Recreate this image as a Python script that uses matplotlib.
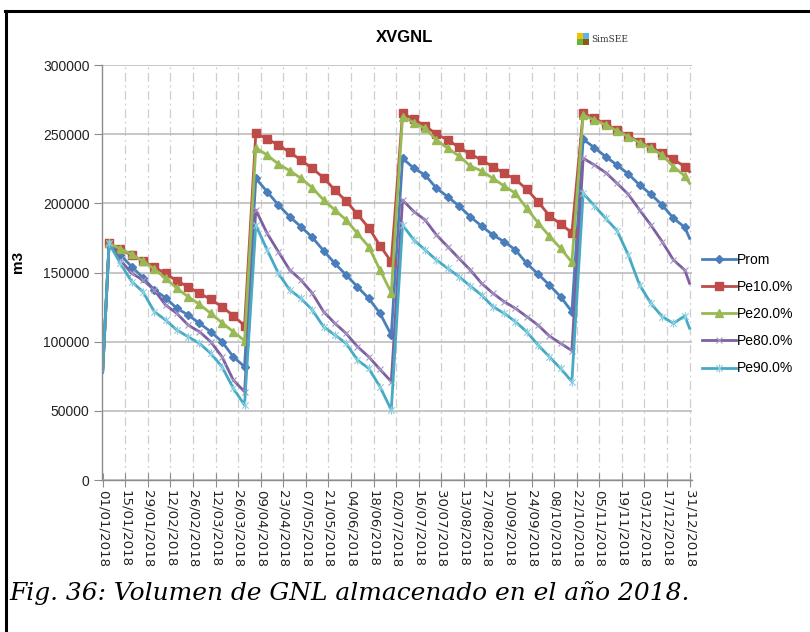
import numpy as np
import pandas as pd
import matplotlib
matplotlib.use("Agg")
import matplotlib.pyplot as plt
import matplotlib.dates as mdates
from matplotlib.lines import Line2D
from matplotlib.patches import Rectangle
from matplotlib.path import Path

# fechas: inicio del año, pasos semanales de la simulación y cierre al 31/12
fechas = ([pd.Timestamp("2018-01-01")]
          + list(pd.date_range("2018-01-05", periods=52, freq="7D"))
          + [pd.Timestamp("2018-12-31")])

prom = [78000,
        171000, 162700, 154200, 146300, 137400, 131800, 124100, 119300, 113300, 107200, 100000, 89100, 81900,
        218100, 208400, 198800, 190300, 183100, 175400, 165800, 156600, 148200, 139700, 131300, 120500, 104800,
        232600, 225300, 220500, 210900, 204800, 198100, 190300, 183600, 177100, 172300, 166300, 156600, 148900,
        141000, 132500, 121700,
        246300, 240200, 233700, 227700, 221200, 213300, 206500, 198800, 189200, 182700,
        174700]
pe10 = [78000,
        171000, 166800, 162400, 158300, 153800, 149400, 143900, 139700, 135000, 130600, 125300, 118800, 111500,
        250600, 246500, 242200, 236900, 231300, 225300, 218500, 209600, 201700, 192100, 182400, 169400, 157800,
        265100, 260700, 255900, 250100, 245800, 240500, 235700, 231300, 226500, 221700, 217400, 210100, 201200,
        191100, 185100, 178800,
        265100, 261500, 257400, 253000, 248700, 244600, 240500, 236600, 231800, 226500,
        222900]
pe20 = [78000,
        171000, 167200, 163100, 158300, 152500, 145800, 138600, 132500, 127000, 120500, 113700, 107200, 100700,
        240200, 234900, 228400, 223600, 218100, 211300, 202400, 195200, 188000, 178300, 168700, 151800, 135400,
        262600, 258300, 254200, 245800, 239800, 234200, 227000, 223400, 218100, 212500, 207300, 196400, 186000,
        176400, 167500, 157400,
        263900, 260200, 256600, 252500, 248200, 243800, 239800, 234900, 226500, 219800,
        214500]
pe80 = [78000,
        171000, 159000, 149400, 144600, 137400, 126500, 120500, 112000, 107200, 100000, 89100, 72300, 63800,
        195200, 178300, 165000, 151800, 144600, 135000, 121700, 113300, 106000, 96400, 89100, 80000, 71100,
        202400, 194000, 188000, 177100, 168700, 160200, 151800, 142200, 135000, 128900, 124100, 118100, 112000,
        104100, 98800, 93500,
        232600, 227700, 222200, 214500, 206500, 195200, 184300, 172300, 159000, 151800,
        142200]
pe90 = [78000,
        171000, 156600, 143400, 136100, 121700, 115700, 108400, 103600, 98800, 91600, 81900, 66300, 54200,
        184300, 166300, 149400, 137400, 131300, 122900, 110800, 104800, 98800, 86700, 80700, 67400, 50600,
        184300, 173500, 166300, 159000, 153000, 147000, 140200, 133700, 125300, 120500, 114400, 107200, 97600,
        89100, 80700, 71100,
        207300, 198100, 189200, 180200, 162700, 141000, 127700, 118100, 113300, 118600,
        109700]

series = ["Prom", "Pe10.0%", "Pe20.0%", "Pe80.0%", "Pe90.0%"]
valores = [prom, pe10, pe20, pe80, pe90]
colores = ["#4A7EBB", "#BE4B48", "#98B954", "#7D60A0", "#46AAC5"]

# marcador estrella de Excel: aspa con barra vertical
estrella = Path([(-1, -1), (1, 1), (-1, 1), (1, -1), (0, -1.3), (0, 1.3)],
                [Path.MOVETO, Path.LINETO, Path.MOVETO, Path.LINETO, Path.MOVETO, Path.LINETO])
marcadores = [dict(marker="D", ms=4),
              dict(marker="s", ms=6),
              dict(marker="^", ms=6),
              dict(marker="x", ms=5, mew=0.8, mec="#A898C4"),
              dict(marker=estrella, ms=6, mew=0.8, mec="#8DCFE0")]

fig = plt.figure(figsize=(8.1, 6.32), dpi=100)
ax = fig.add_axes([102 / 810, 1 - 480 / 632, 590 / 810, 415 / 632])

# los puntos extremos (01/01 y 31/12) van sin marcador
con_marca = list(range(1, len(fechas) - 1))
for nombre, ys, c, mk in zip(series, valores, colores, marcadores):
    ax.plot(fechas, ys, color=c, lw=2.0, label=nombre, markevery=con_marca, **mk)

inicio = pd.Timestamp("2018-01-01")
fin = pd.Timestamp("2018-12-31")
ticks_x = pd.date_range(inicio, fin, freq="14D")
ax.set_xlim(mdates.date2num(inicio) - 0.4, mdates.date2num(fin) + 1.5)
ax.set_xticks(ticks_x)
ax.set_xticklabels([t.strftime("%d/%m/%Y") for t in ticks_x], rotation=270,
                   fontsize=9.6, family="DejaVu Sans", color="#222222")
ax.set_ylim(0, 300000)
ax.set_yticks(np.arange(0, 300001, 50000))
ax.set_yticklabels([str(v) for v in range(0, 300001, 50000)],
                   fontsize=10, family="Liberation Sans", color="#222222")

ax.grid(axis="y", color="#BDBDBD", lw=1.2)
ax.grid(axis="x", color="#CFCFCF", lw=0.9, ls=(0, (7, 3, 1.5, 3)))
ax.xaxis.get_gridlines()[0].set_visible(False)  # el eje izquierdo ya ocupa ese lugar
ax.set_axisbelow(True)
for lado in ["top", "right"]:
    ax.spines[lado].set_visible(False)
for lado in ["left", "bottom"]:
    ax.spines[lado].set_color("#8C8C8C")
    ax.spines[lado].set_linewidth(1.0)
ax.tick_params(axis="y", direction="out", length=6, color="#8C8C8C", pad=3)
ax.tick_params(axis="x", direction="inout", length=10, color="#8C8C8C", pad=2)

ax.set_ylabel("m3", fontsize=11, fontweight="bold", family="Liberation Sans")
ax.yaxis.set_label_coords(-77 / 590, 0.525)

ax.legend(loc="center left", bbox_to_anchor=(1.0, 0.40), frameon=False,
          prop={"family": "Liberation Sans", "size": 10}, handlelength=2.5,
          handletextpad=0.05, labelspacing=0.95, borderaxespad=0.3)

fig.text(405 / 810, 1 - 38 / 632, "XVGNL", ha="center", va="center",
         fontsize=12, fontweight="bold", family="Liberation Sans")

# logo SimSEE
lx, ly, lado = 577 / 810, 1 - 45 / 632, 6
for (dx, dy, c) in [(0, 1, "#F2C200"), (1, 1, "#5BB5E6"), (0, 0, "#6BB23A"), (1, 0, "#8A5A12")]:
    fig.add_artist(Rectangle((lx + dx * lado / 810, ly + dy * lado / 632), lado / 810, lado / 632,
                             transform=fig.transFigure, color=c, lw=0))
fig.text(591 / 810, 1 - 39 / 632, "SimSEE", ha="left", va="center", fontsize=6.5,
         family="DejaVu Serif", color="#333333")

# marco del documento
fig.add_artist(Line2D([5 / 810, 1], [1 - 11 / 632, 1 - 11 / 632], transform=fig.transFigure,
                      color="black", lw=2.2))
fig.add_artist(Line2D([5.5 / 810, 5.5 / 810], [0, 1 - 11 / 632], transform=fig.transFigure,
                      color="black", lw=2.2))

fig.text(9 / 810, 1 - 593 / 632, "Fig. 36: Volumen de GNL almacenado en el año 2018.",
         ha="left", va="center", fontsize=17.9, style="italic", family="DejaVu Serif")

fig.savefig("out.png", dpi=100)
